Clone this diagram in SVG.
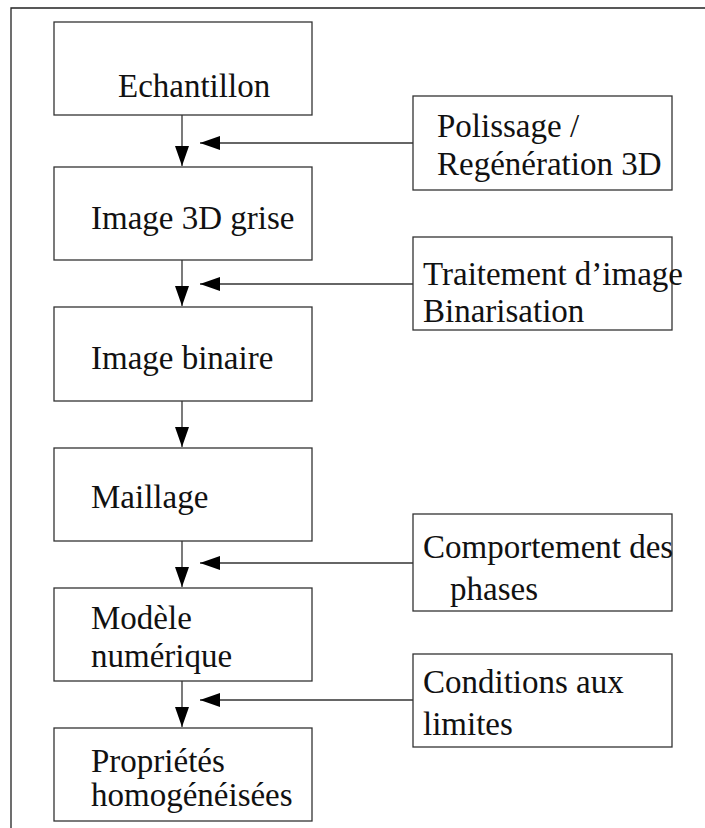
<svg xmlns="http://www.w3.org/2000/svg" width="705" height="828" viewBox="0 0 705 828">
<style>
.box{fill:#fff;stroke:#333;stroke-width:1.3}
.t{font-family:"Liberation Serif","Times New Roman",serif;font-size:33px;fill:#111}
.c{stroke:#333;stroke-width:1.3;fill:none}
.frame{stroke:#222;stroke-width:1.3;fill:none}
</style>
<defs>
<marker id="ah" markerUnits="userSpaceOnUse" markerWidth="20" markerHeight="14" refX="20" refY="7" orient="auto">
<path d="M0,0 L20,7 L0,14 z" fill="#000"/>
</marker>
</defs>
<rect width="705" height="828" fill="#fff"/>
<path class="frame" d="M705,8 H11 V828"/>
<g id="connectors">
<line class="c" x1="182" y1="115" x2="182" y2="166" marker-end="url(#ah)"/>
<line class="c" x1="182" y1="260" x2="182" y2="306" marker-end="url(#ah)"/>
<line class="c" x1="182" y1="401" x2="182" y2="447" marker-end="url(#ah)"/>
<line class="c" x1="182" y1="541" x2="182" y2="587" marker-end="url(#ah)"/>
<line class="c" x1="182" y1="681" x2="182" y2="727" marker-end="url(#ah)"/>
<line class="c" x1="413" y1="143" x2="200" y2="143" marker-end="url(#ah)"/>
<line class="c" x1="413" y1="284" x2="200" y2="284" marker-end="url(#ah)"/>
<line class="c" x1="413" y1="563" x2="200" y2="563" marker-end="url(#ah)"/>
<line class="c" x1="413" y1="700" x2="200" y2="700" marker-end="url(#ah)"/>
</g>
<g id="echantillon"><rect class="box" x="54" y="22" width="258" height="93"/><text class="t" x="118" y="97">Echantillon</text></g>
<g id="image3d"><rect class="box" x="54" y="167" width="258" height="93"/><text class="t" x="91" y="229">Image 3D grise</text></g>
<g id="binaire"><rect class="box" x="54" y="307" width="258" height="94"/><text class="t" x="91" y="369">Image binaire</text></g>
<g id="maillage"><rect class="box" x="54" y="448" width="258" height="93"/><text class="t" x="91" y="508">Maillage</text></g>
<g id="modele"><rect class="box" x="54" y="588" width="258" height="93"/><text class="t" x="91" y="629">Modèle</text><text class="t" x="91" y="667">numérique</text></g>
<g id="proprietes"><rect class="box" x="54" y="728" width="258" height="93"/><text class="t" x="91" y="772">Propriétés</text><text class="t" x="91" y="806">homogénéisées</text></g>
<g id="polissage"><rect class="box" x="413" y="96" width="259" height="94"/><text class="t" x="437" y="137">Polissage /</text><text class="t" x="437" y="175">Regénération 3D</text></g>
<g id="traitement"><rect class="box" x="413" y="237" width="259" height="93"/><text class="t" x="423" y="285">Traitement d’image</text><text class="t" x="423" y="322">Binarisation</text></g>
<g id="comportement"><rect class="box" x="413" y="514" width="259" height="97"/><text class="t" x="423" y="558">Comportement des</text><text class="t" x="450" y="600">phases</text></g>
<g id="conditions"><rect class="box" x="413" y="654" width="259" height="93"/><text class="t" x="423" y="693">Conditions aux</text><text class="t" x="423" y="735">limites</text></g>
</svg>
